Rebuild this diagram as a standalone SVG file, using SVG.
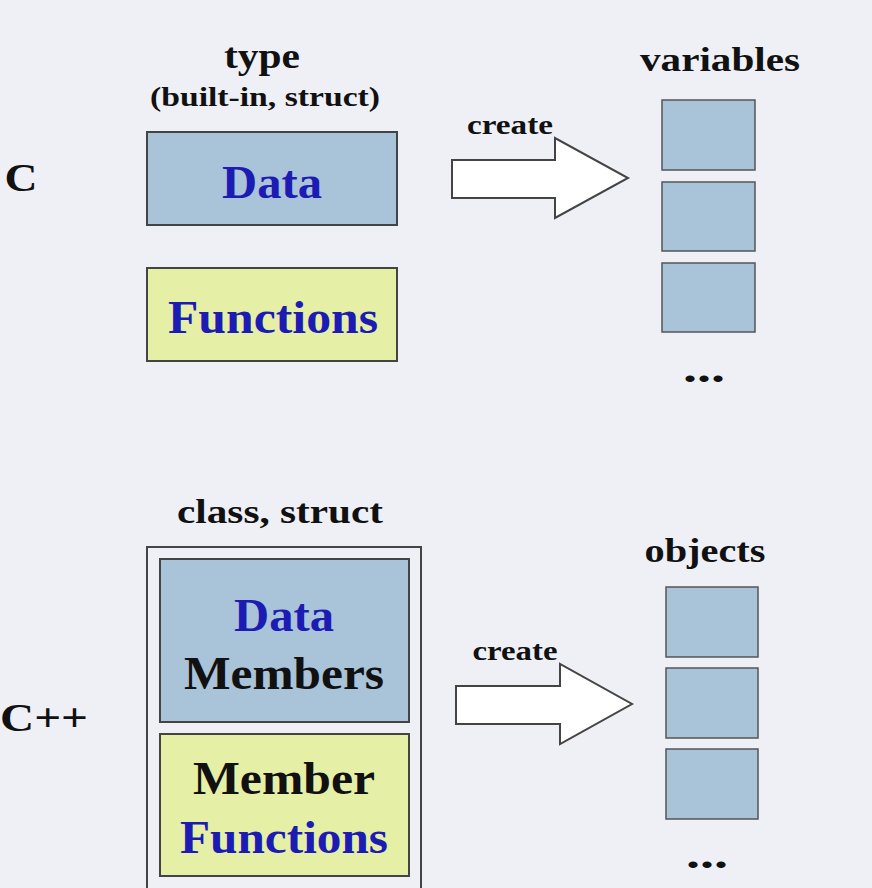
<svg xmlns="http://www.w3.org/2000/svg" width="872" height="888" viewBox="0 0 872 888">
<style>
text{font-family:"Liberation Serif","Times New Roman",serif;font-weight:bold;fill:#111;text-anchor:middle}
.blue{fill:#1c1cb4}
.data{fill:#a9c3d8;stroke:#444;stroke-width:2}
.func{fill:#e5f0a6;stroke:#444;stroke-width:2}
.var{fill:#a9c3d8;stroke:#555;stroke-width:1.5}
.arrow{fill:#fff;stroke:#444;stroke-width:2}
</style>
<rect width="872" height="888" fill="#eef0f6"/>
<g id="c-label"><text x="21" y="191" font-size="40" textLength="33" lengthAdjust="spacingAndGlyphs">C</text></g>
<g id="c-type"><text x="262" y="68" font-size="36" textLength="76" lengthAdjust="spacingAndGlyphs">type</text><text x="265" y="106" font-size="27" textLength="230" lengthAdjust="spacingAndGlyphs">(built-in, struct)</text></g>
<g id="c-data"><rect class="data" x="147" y="132" width="250" height="93"/><text class="blue" x="272" y="198" font-size="46" textLength="100" lengthAdjust="spacingAndGlyphs">Data</text></g>
<g id="c-functions"><rect class="func" x="147" y="268" width="250" height="93"/><text class="blue" x="273" y="333" font-size="46" textLength="210" lengthAdjust="spacingAndGlyphs">Functions</text></g>
<g id="c-variables"><text x="720" y="71" font-size="34" textLength="160" lengthAdjust="spacingAndGlyphs">variables</text>
<rect class="var" x="662" y="100" width="93" height="70"/><rect class="var" x="662" y="182" width="93" height="69"/><rect class="var" x="662" y="263" width="93" height="69"/>
<text x="704" y="382" font-size="40" textLength="42" lengthAdjust="spacingAndGlyphs">...</text></g>
<g id="cpp-label"><text x="44" y="731" font-size="40" textLength="88" lengthAdjust="spacingAndGlyphs">C++</text></g>
<g id="cpp-class"><text x="280" y="523" font-size="34" textLength="206" lengthAdjust="spacingAndGlyphs">class, struct</text>
<rect x="147" y="547" width="274" height="345" fill="none" stroke="#444" stroke-width="2"/></g>
<g id="cpp-data"><rect class="data" x="160" y="559" width="249" height="163"/><text class="blue" x="284" y="631" font-size="46" textLength="100" lengthAdjust="spacingAndGlyphs">Data</text><text x="284" y="689" font-size="46" textLength="200" lengthAdjust="spacingAndGlyphs">Members</text></g>
<g id="cpp-functions"><rect class="func" x="160" y="734" width="249" height="142"/><text x="284" y="794" font-size="46" textLength="182" lengthAdjust="spacingAndGlyphs">Member</text><text class="blue" x="284" y="853" font-size="46" textLength="208" lengthAdjust="spacingAndGlyphs">Functions</text></g>
<g id="cpp-objects"><text x="705" y="562" font-size="34" textLength="121" lengthAdjust="spacingAndGlyphs">objects</text>
<rect class="var" x="666" y="587" width="92" height="70"/><rect class="var" x="666" y="668" width="92" height="70"/><rect class="var" x="666" y="749" width="92" height="70"/>
<text x="707" y="868" font-size="40" textLength="42" lengthAdjust="spacingAndGlyphs">...</text></g>
<g id="connectors">
<polygon class="arrow" points="452,160 555,160 555,138 628,178 555,218 555,198 452,198"/>
<text x="510" y="134" font-size="28" textLength="86" lengthAdjust="spacingAndGlyphs">create</text>
<polygon class="arrow" points="456,686 560,686 560,664 632,704 560,744 560,724 456,724"/>
<text x="515" y="660" font-size="28" textLength="85" lengthAdjust="spacingAndGlyphs">create</text>
</g>
</svg>
